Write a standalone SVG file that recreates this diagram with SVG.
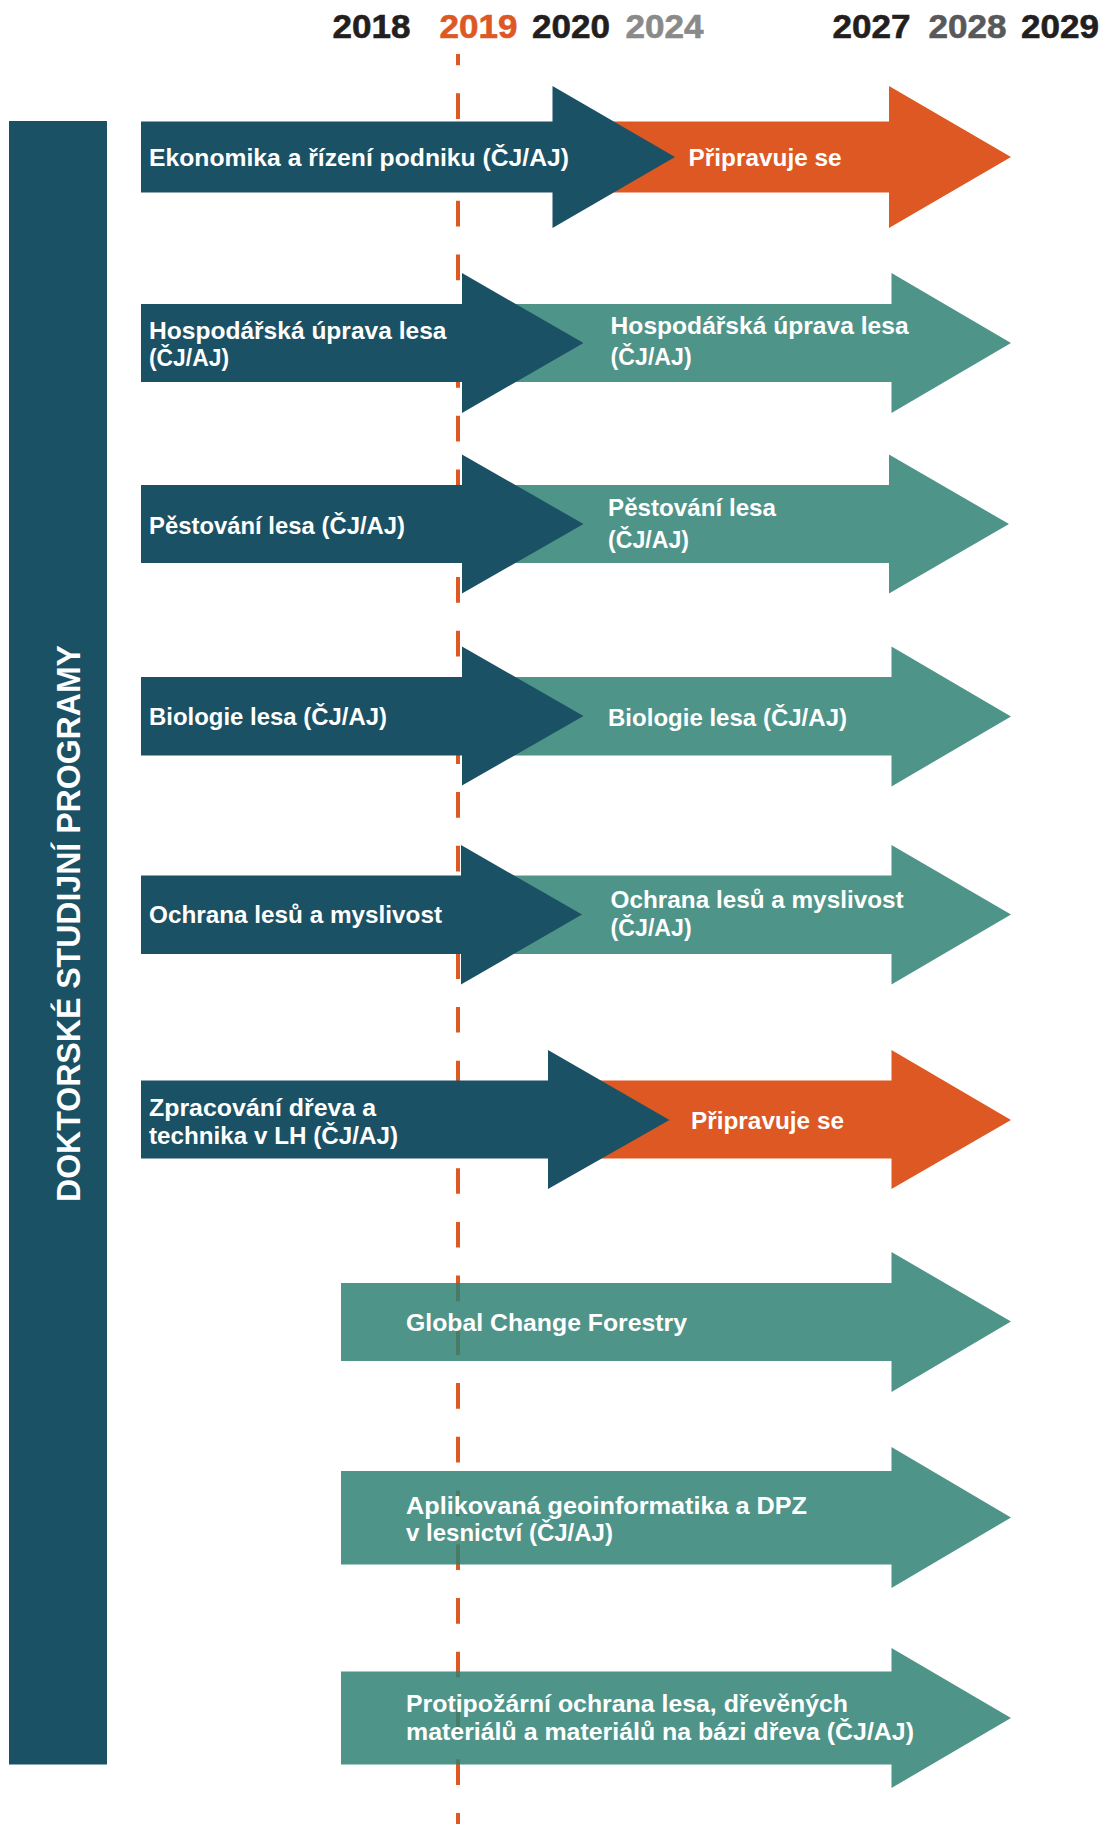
<svg xmlns="http://www.w3.org/2000/svg" width="1105" height="1824" viewBox="0 0 1105 1824">
<style>
.dark{fill:#1b5164}
.orange{fill:#dd5823}
.teal{fill:#308174;fill-opacity:0.85}
.lbl{font-family:"Liberation Sans",Arial,sans-serif;font-weight:bold;font-size:24.5px;fill:#ffffff}
.yr{font-family:"Liberation Sans",Arial,sans-serif;font-weight:bold;font-size:34px;stroke-width:0.6px}
</style>
<rect width="1105" height="1824" fill="#ffffff"/>
<g id="years">
<text class="yr" x="332.5" y="38.3" fill="#231f20" stroke="#231f20" textLength="78" lengthAdjust="spacingAndGlyphs">2018</text>
<text class="yr" x="439.5" y="38.3" fill="#dd5823" stroke="#dd5823" textLength="78" lengthAdjust="spacingAndGlyphs">2019</text>
<text class="yr" x="532" y="38.3" fill="#231f20" stroke="#231f20" textLength="78" lengthAdjust="spacingAndGlyphs">2020</text>
<text class="yr" x="625.5" y="38.3" fill="#8a8a8a" stroke="#8a8a8a" textLength="78" lengthAdjust="spacingAndGlyphs">2024</text>
<text class="yr" x="832.5" y="38.3" fill="#231f20" stroke="#231f20" textLength="78" lengthAdjust="spacingAndGlyphs">2027</text>
<text class="yr" x="928.5" y="38.3" fill="#58595b" stroke="#58595b" textLength="78" lengthAdjust="spacingAndGlyphs">2028</text>
<text class="yr" x="1021" y="38.3" fill="#231f20" stroke="#231f20" textLength="78" lengthAdjust="spacingAndGlyphs">2029</text>
</g>
<g id="connectors">
<line x1="458" y1="54" x2="458" y2="1824" stroke="#dd5823" stroke-width="4" stroke-dasharray="25.7 28.04" stroke-dashoffset="14.4"/>
</g>
<g id="side-bar">
<rect class="dark" x="9" y="121" width="98" height="1643.5"/>
<text class="lbl" transform="translate(80,923.5) rotate(-90)" text-anchor="middle" style="font-size:34px" textLength="557" lengthAdjust="spacingAndGlyphs">DOKTORSKÉ STUDIJNÍ PROGRAMY</text>
</g>
<g id="row1">
<polygon class="orange" points="600,121.5 889,121.5 889,86 1011,157 889,228 889,192.5 600,192.5"/>
<polygon class="dark" points="141,121.5 552.5,121.5 552.5,86 675,157 552.5,228 552.5,192.5 141,192.5"/>
<text class="lbl" x="149" y="166" textLength="420" lengthAdjust="spacingAndGlyphs">Ekonomika a řízení podniku (ČJ/AJ)</text>
<text class="lbl" x="688.6" y="166" textLength="153" lengthAdjust="spacingAndGlyphs">Připravuje se</text>
</g>
<g id="row2">
<polygon class="teal" points="500,304 891.5,304 891.5,273 1011,343 891.5,413 891.5,382 500,382"/>
<polygon class="dark" points="141,304 462,304 462,273 583.5,343 462,413 462,382 141,382"/>
<text class="lbl" x="149" y="339" textLength="297.5" lengthAdjust="spacingAndGlyphs">Hospodářská úprava lesa</text>
<text class="lbl" x="149" y="366" textLength="80" lengthAdjust="spacingAndGlyphs">(ČJ/AJ)</text>
<text class="lbl" x="610.6" y="334" textLength="298" lengthAdjust="spacingAndGlyphs">Hospodářská úprava lesa</text>
<text class="lbl" x="610.6" y="365" textLength="81" lengthAdjust="spacingAndGlyphs">(ČJ/AJ)</text>
</g>
<g id="row3">
<polygon class="teal" points="500,485 889,485 889,454.5 1009,524 889,593.5 889,563 500,563"/>
<polygon class="dark" points="141,485 462,485 462,454.5 583.5,524 462,593.5 462,563 141,563"/>
<text class="lbl" x="149" y="534" textLength="256" lengthAdjust="spacingAndGlyphs">Pěstování lesa (ČJ/AJ)</text>
<text class="lbl" x="608" y="516" textLength="168" lengthAdjust="spacingAndGlyphs">Pěstování lesa</text>
<text class="lbl" x="608" y="548" textLength="81" lengthAdjust="spacingAndGlyphs">(ČJ/AJ)</text>
</g>
<g id="row4">
<polygon class="teal" points="500,677 891.5,677 891.5,646.5 1011,716.5 891.5,786.5 891.5,755.5 500,755.5"/>
<polygon class="dark" points="141,677 462,677 462,646.5 583.5,716 462,785.5 462,755.5 141,755.5"/>
<text class="lbl" x="149" y="725" textLength="238" lengthAdjust="spacingAndGlyphs">Biologie lesa (ČJ/AJ)</text>
<text class="lbl" x="608" y="726" textLength="239" lengthAdjust="spacingAndGlyphs">Biologie lesa (ČJ/AJ)</text>
</g>
<g id="row5">
<polygon class="teal" points="500,875.5 891.5,875.5 891.5,845 1011,914.5 891.5,984.5 891.5,954 500,954"/>
<polygon class="dark" points="141,875.5 461,875.5 461,845 582,914.5 461,984.5 461,954 141,954"/>
<text class="lbl" x="149" y="923" textLength="293" lengthAdjust="spacingAndGlyphs">Ochrana lesů a myslivost</text>
<text class="lbl" x="610.6" y="908" textLength="293" lengthAdjust="spacingAndGlyphs">Ochrana lesů a myslivost</text>
<text class="lbl" x="610.6" y="936" textLength="81" lengthAdjust="spacingAndGlyphs">(ČJ/AJ)</text>
</g>
<g id="row6">
<polygon class="orange" points="600,1080.5 891.5,1080.5 891.5,1050 1011,1120 891.5,1189 891.5,1158.5 600,1158.5"/>
<polygon class="dark" points="141,1080.5 548,1080.5 548,1050 669.5,1120 548,1189 548,1158.5 141,1158.5"/>
<text class="lbl" x="149" y="1116" textLength="227" lengthAdjust="spacingAndGlyphs">Zpracování dřeva a</text>
<text class="lbl" x="149" y="1143.5" textLength="249" lengthAdjust="spacingAndGlyphs">technika v LH (ČJ/AJ)</text>
<text class="lbl" x="691" y="1129" textLength="153" lengthAdjust="spacingAndGlyphs">Připravuje se</text>
</g>
<g id="row7">
<polygon class="teal" points="341,1283 891.5,1283 891.5,1252 1011,1321.5 891.5,1392 891.5,1361 341,1361"/>
<text class="lbl" x="406" y="1330.5" textLength="281" lengthAdjust="spacingAndGlyphs">Global Change Forestry</text>
</g>
<g id="row8">
<polygon class="teal" points="341,1471 891.5,1471 891.5,1447 1011,1517.5 891.5,1588 891.5,1564.5 341,1564.5"/>
<text class="lbl" x="406" y="1514" textLength="401" lengthAdjust="spacingAndGlyphs">Aplikovaná geoinformatika a DPZ</text>
<text class="lbl" x="406" y="1540.5" textLength="207" lengthAdjust="spacingAndGlyphs">v lesnictví (ČJ/AJ)</text>
</g>
<g id="row9">
<polygon class="teal" points="341,1671.5 891.5,1671.5 891.5,1648 1011,1718 891.5,1788 891.5,1764.5 341,1764.5"/>
<text class="lbl" x="406" y="1712" textLength="442" lengthAdjust="spacingAndGlyphs">Protipožární ochrana lesa, dřevěných</text>
<text class="lbl" x="406" y="1739.5" textLength="508" lengthAdjust="spacingAndGlyphs">materiálů a materiálů na bázi dřeva (ČJ/AJ)</text>
</g>
</svg>
